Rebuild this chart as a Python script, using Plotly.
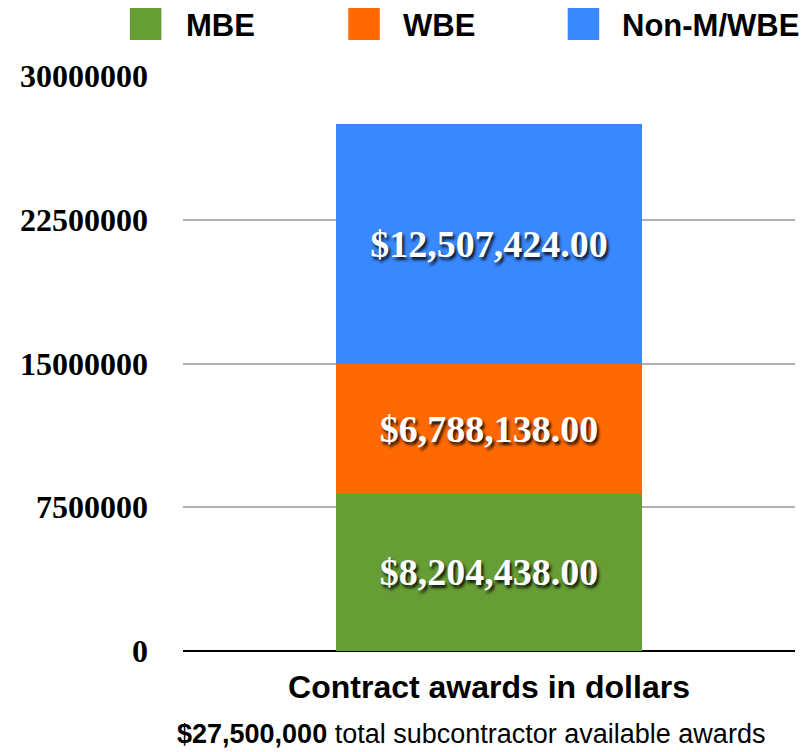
import plotly.graph_objects as go

categories = ["Contract awards in dollars"]
series_names = ["MBE", "WBE", "Non-M/WBE"]
mbe = [8204438.00]
wbe = [6788138.00]
non_mwbe = [12507424.00]
series_values = [mbe, wbe, non_mwbe]
colors = ["#669d34", "#ff6a00", "#3a88fe"]
y_ticks = [0, 7500000, 15000000, 22500000, 30000000]
total_label = "$27,500,000"

W, H = 802, 744
L, R, T, B = 165, 15, 68, 101
pw = W - L - R
ph = H - T - B

fig = go.Figure()
for name, vals, col in zip(series_names, series_values, colors):
    fig.add_trace(go.Bar(
        x=categories, y=vals, name=name, marker_color=col, marker_line_width=0,
        texttemplate="$%{y:,.2f}", textposition="inside", insidetextanchor="middle",
        textangle=0, constraintext="none",
        textfont=dict(family="Liberation Serif", size=38, color="white",
                      weight="bold", shadow="2px 3px 3px rgba(0,0,0,0.85)"),
        showlegend=False,
    ))

# manual legend (large squares), pixel positions in figure coordinates
legend_sq_x = [111, 333, 556]
legend_tx_x = [166, 387, 609]
for i, name in enumerate(series_names):
    x0 = (legend_sq_x[i] - L) / pw
    x1 = (legend_sq_x[i] + 32 - L) / pw
    fig.add_shape(type="rect", xref="paper", yref="paper",
                  x0=x0, x1=x1, y0=1 + (T - 32) / ph, y1=1 + (T - 0) / ph,
                  fillcolor=colors[i], line_width=0)
    fig.add_annotation(xref="paper", yref="paper", x=(legend_tx_x[i] - L) / pw,
                       y=1 + (T - 17.5) / ph, text="<b>%s</b>" % name, showarrow=False,
                       xanchor="left", yanchor="middle",
                       font=dict(family="Liberation Sans", size=31, color="black"))

# subtitle below the category label
fig.add_annotation(xref="paper", yref="paper", x=(458 - L) / pw, y=-(726 - (H - B)) / ph,
                   text="<b>%s</b> total subcontractor available awards" % total_label,
                   showarrow=False, xanchor="center", yanchor="middle",
                   font=dict(family="Liberation Sans", size=27, color="black"))

fig.update_layout(
    width=W, height=H, barmode="stack", bargap=0.5,
    margin=dict(l=L, r=R, t=T, b=B),
    plot_bgcolor="white", paper_bgcolor="white", showlegend=False,
    xaxis=dict(showgrid=False, showline=False, zeroline=False,
               tickvals=categories, ticktext=["<b>%s</b>" % c for c in categories],
               tickfont=dict(family="Liberation Sans", size=32, color="black"),
               ticklabelstandoff=14),
    yaxis=dict(range=[0, 30000000], tickvals=y_ticks, tickformat="d",
               showgrid=True, gridcolor="#b0b0b0", gridwidth=2,
               zeroline=True, zerolinecolor="black", zerolinewidth=2,
               showline=False,
               tickfont=dict(family="Liberation Serif", size=32, color="black", weight="bold"),
               ticklabelstandoff=34),
)

fig.write_html("out.html")
